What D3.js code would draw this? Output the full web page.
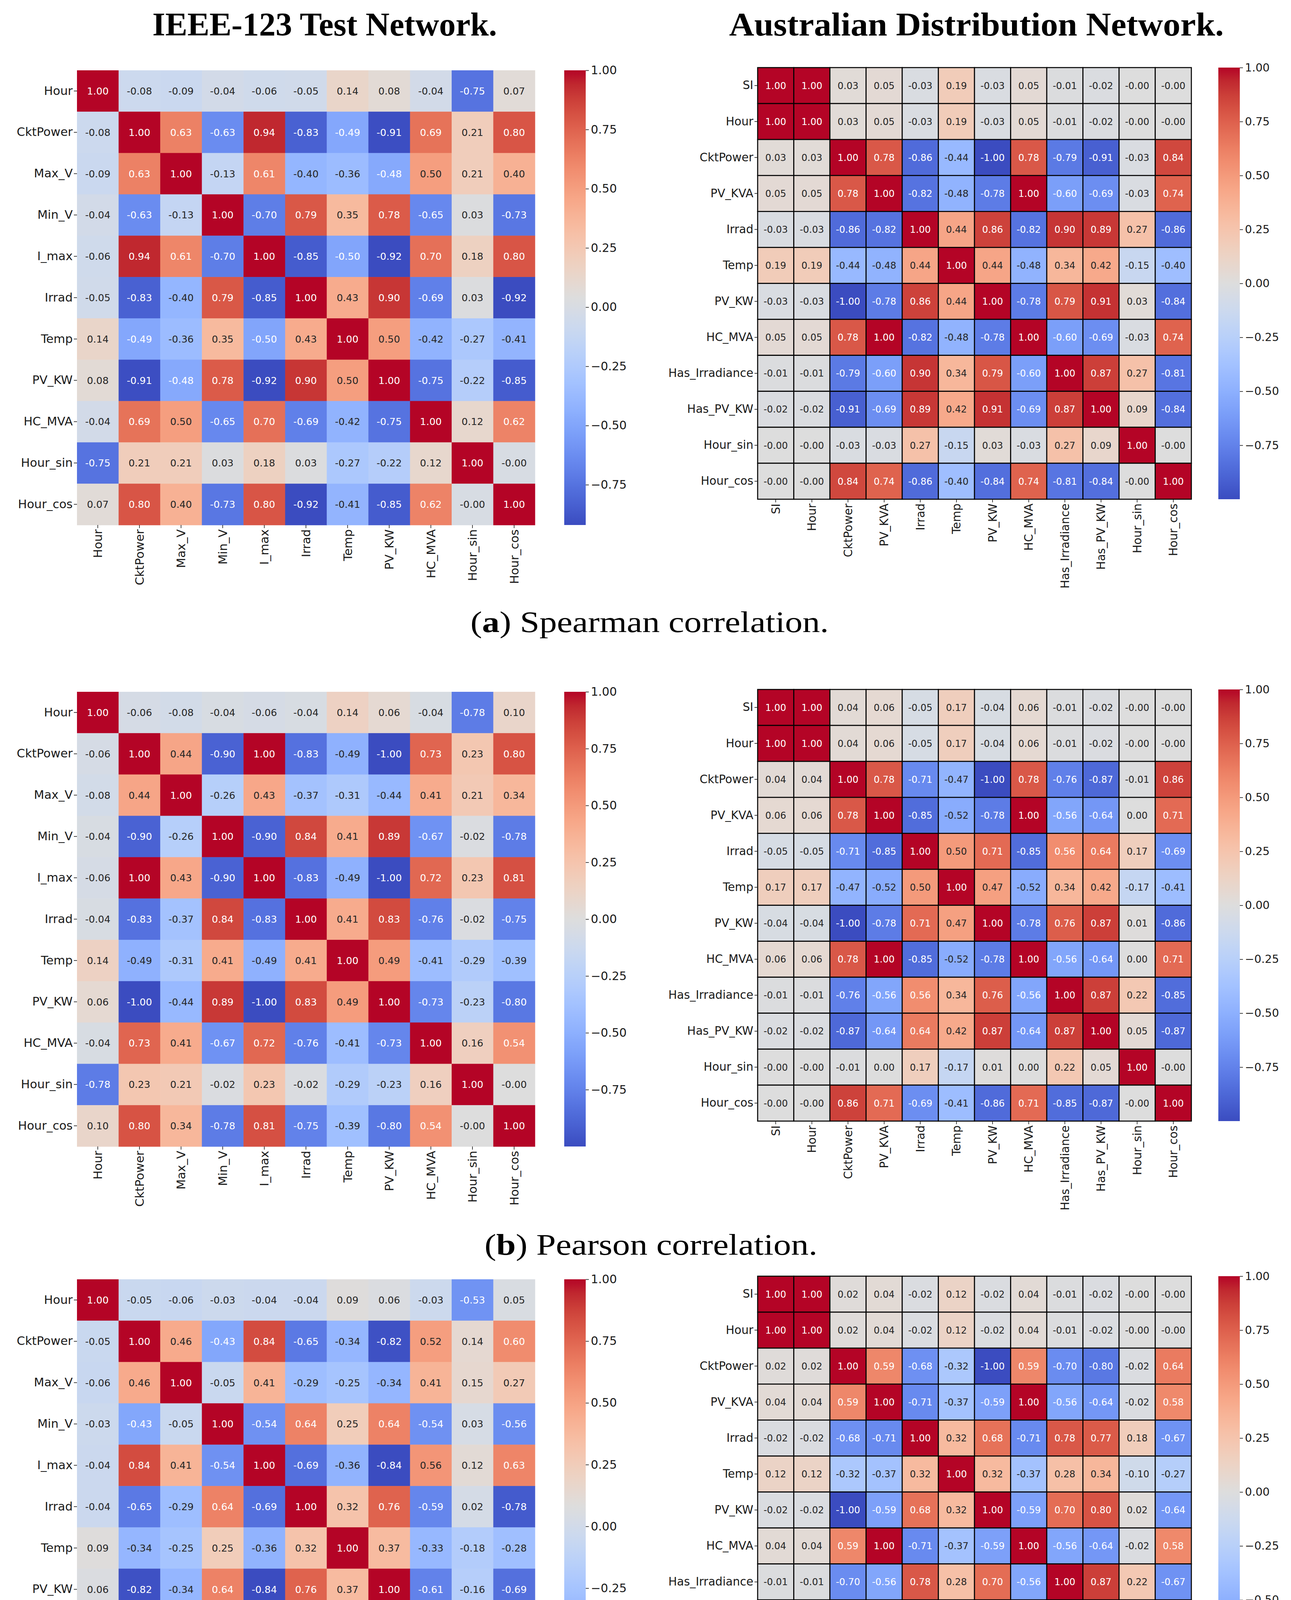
<!DOCTYPE html>
<html><head><meta charset="utf-8">
<script src="https://cdn.jsdelivr.net/npm/d3@7"></script>
<style>body{margin:0;background:#fff}</style>
</head><body>
<svg id="chart" width="3304" height="4757" xmlns="http://www.w3.org/2000/svg"></svg>
<script>
// ---------------- DATA ----------------
const ieeeLabels = ["Hour","CktPower","Max_V","Min_V","I_max","Irrad","Temp","PV_KW","HC_MVA","Hour_sin","Hour_cos"];
const ausLabels = ["SI","Hour","CktPower","PV_KVA","Irrad","Temp","PV_KW","HC_MVA","Has_Irradiance","Has_PV_KW","Hour_sin","Hour_cos"];

const spearmanIEEE = [
 [1.00,-0.08,-0.09,-0.04,-0.06,-0.05,0.14,0.08,-0.04,-0.75,0.07],
 [-0.08,1.00,0.63,-0.63,0.94,-0.83,-0.49,-0.91,0.69,0.21,0.80],
 [-0.09,0.63,1.00,-0.13,0.61,-0.40,-0.36,-0.48,0.50,0.21,0.40],
 [-0.04,-0.63,-0.13,1.00,-0.70,0.79,0.35,0.78,-0.65,0.03,-0.73],
 [-0.06,0.94,0.61,-0.70,1.00,-0.85,-0.50,-0.92,0.70,0.18,0.80],
 [-0.05,-0.83,-0.40,0.79,-0.85,1.00,0.43,0.90,-0.69,0.03,-0.92],
 [0.14,-0.49,-0.36,0.35,-0.50,0.43,1.00,0.50,-0.42,-0.27,-0.41],
 [0.08,-0.91,-0.48,0.78,-0.92,0.90,0.50,1.00,-0.75,-0.22,-0.85],
 [-0.04,0.69,0.50,-0.65,0.70,-0.69,-0.42,-0.75,1.00,0.12,0.62],
 [-0.75,0.21,0.21,0.03,0.18,0.03,-0.27,-0.22,0.12,1.00,-0.00],
 [0.07,0.80,0.40,-0.73,0.80,-0.92,-0.41,-0.85,0.62,-0.00,1.00]
];
const spearmanAUS = [
 [1.00,1.00,0.03,0.05,-0.03,0.19,-0.03,0.05,-0.01,-0.02,-0.00,-0.00],
 [1.00,1.00,0.03,0.05,-0.03,0.19,-0.03,0.05,-0.01,-0.02,-0.00,-0.00],
 [0.03,0.03,1.00,0.78,-0.86,-0.44,-1.00,0.78,-0.79,-0.91,-0.03,0.84],
 [0.05,0.05,0.78,1.00,-0.82,-0.48,-0.78,1.00,-0.60,-0.69,-0.03,0.74],
 [-0.03,-0.03,-0.86,-0.82,1.00,0.44,0.86,-0.82,0.90,0.89,0.27,-0.86],
 [0.19,0.19,-0.44,-0.48,0.44,1.00,0.44,-0.48,0.34,0.42,-0.15,-0.40],
 [-0.03,-0.03,-1.00,-0.78,0.86,0.44,1.00,-0.78,0.79,0.91,0.03,-0.84],
 [0.05,0.05,0.78,1.00,-0.82,-0.48,-0.78,1.00,-0.60,-0.69,-0.03,0.74],
 [-0.01,-0.01,-0.79,-0.60,0.90,0.34,0.79,-0.60,1.00,0.87,0.27,-0.81],
 [-0.02,-0.02,-0.91,-0.69,0.89,0.42,0.91,-0.69,0.87,1.00,0.09,-0.84],
 [-0.00,-0.00,-0.03,-0.03,0.27,-0.15,0.03,-0.03,0.27,0.09,1.00,-0.00],
 [-0.00,-0.00,0.84,0.74,-0.86,-0.40,-0.84,0.74,-0.81,-0.84,-0.00,1.00]
];
const pearsonIEEE = [
 [1.00,-0.06,-0.08,-0.04,-0.06,-0.04,0.14,0.06,-0.04,-0.78,0.10],
 [-0.06,1.00,0.44,-0.90,1.00,-0.83,-0.49,-1.00,0.73,0.23,0.80],
 [-0.08,0.44,1.00,-0.26,0.43,-0.37,-0.31,-0.44,0.41,0.21,0.34],
 [-0.04,-0.90,-0.26,1.00,-0.90,0.84,0.41,0.89,-0.67,-0.02,-0.78],
 [-0.06,1.00,0.43,-0.90,1.00,-0.83,-0.49,-1.00,0.72,0.23,0.81],
 [-0.04,-0.83,-0.37,0.84,-0.83,1.00,0.41,0.83,-0.76,-0.02,-0.75],
 [0.14,-0.49,-0.31,0.41,-0.49,0.41,1.00,0.49,-0.41,-0.29,-0.39],
 [0.06,-1.00,-0.44,0.89,-1.00,0.83,0.49,1.00,-0.73,-0.23,-0.80],
 [-0.04,0.73,0.41,-0.67,0.72,-0.76,-0.41,-0.73,1.00,0.16,0.54],
 [-0.78,0.23,0.21,-0.02,0.23,-0.02,-0.29,-0.23,0.16,1.00,-0.00],
 [0.10,0.80,0.34,-0.78,0.81,-0.75,-0.39,-0.80,0.54,-0.00,1.00]
];
const pearsonAUS = [
 [1.00,1.00,0.04,0.06,-0.05,0.17,-0.04,0.06,-0.01,-0.02,-0.00,-0.00],
 [1.00,1.00,0.04,0.06,-0.05,0.17,-0.04,0.06,-0.01,-0.02,-0.00,-0.00],
 [0.04,0.04,1.00,0.78,-0.71,-0.47,-1.00,0.78,-0.76,-0.87,-0.01,0.86],
 [0.06,0.06,0.78,1.00,-0.85,-0.52,-0.78,1.00,-0.56,-0.64,0.00,0.71],
 [-0.05,-0.05,-0.71,-0.85,1.00,0.50,0.71,-0.85,0.56,0.64,0.17,-0.69],
 [0.17,0.17,-0.47,-0.52,0.50,1.00,0.47,-0.52,0.34,0.42,-0.17,-0.41],
 [-0.04,-0.04,-1.00,-0.78,0.71,0.47,1.00,-0.78,0.76,0.87,0.01,-0.86],
 [0.06,0.06,0.78,1.00,-0.85,-0.52,-0.78,1.00,-0.56,-0.64,0.00,0.71],
 [-0.01,-0.01,-0.76,-0.56,0.56,0.34,0.76,-0.56,1.00,0.87,0.22,-0.85],
 [-0.02,-0.02,-0.87,-0.64,0.64,0.42,0.87,-0.64,0.87,1.00,0.05,-0.87],
 [-0.00,-0.00,-0.01,0.00,0.17,-0.17,0.01,0.00,0.22,0.05,1.00,-0.00],
 [-0.00,-0.00,0.86,0.71,-0.69,-0.41,-0.86,0.71,-0.85,-0.87,-0.00,1.00]
];
const kendallIEEE = [
 [1.00,-0.05,-0.06,-0.03,-0.04,-0.04,0.09,0.06,-0.03,-0.53,0.05],
 [-0.05,1.00,0.46,-0.43,0.84,-0.65,-0.34,-0.82,0.52,0.14,0.60],
 [-0.06,0.46,1.00,-0.05,0.41,-0.29,-0.25,-0.34,0.41,0.15,0.27],
 [-0.03,-0.43,-0.05,1.00,-0.54,0.64,0.25,0.64,-0.54,0.03,-0.56],
 [-0.04,0.84,0.41,-0.54,1.00,-0.69,-0.36,-0.84,0.56,0.12,0.63],
 [-0.04,-0.65,-0.29,0.64,-0.69,1.00,0.32,0.76,-0.59,0.02,-0.78],
 [0.09,-0.34,-0.25,0.25,-0.36,0.32,1.00,0.37,-0.33,-0.18,-0.28],
 [0.06,-0.82,-0.34,0.64,-0.84,0.76,0.37,1.00,-0.61,-0.16,-0.69],
 [-0.03,0.52,0.41,-0.54,0.56,-0.59,-0.33,-0.61,1.00,0.10,0.50],
 [-0.53,0.14,0.15,0.03,0.12,0.02,-0.18,-0.16,0.10,1.00,-0.00],
 [0.05,0.60,0.27,-0.56,0.63,-0.78,-0.28,-0.69,0.50,-0.00,1.00]
];
const kendallAUS = [
 [1.00,1.00,0.02,0.04,-0.02,0.12,-0.02,0.04,-0.01,-0.02,-0.00,-0.00],
 [1.00,1.00,0.02,0.04,-0.02,0.12,-0.02,0.04,-0.01,-0.02,-0.00,-0.00],
 [0.02,0.02,1.00,0.59,-0.68,-0.32,-1.00,0.59,-0.70,-0.80,-0.02,0.64],
 [0.04,0.04,0.59,1.00,-0.71,-0.37,-0.59,1.00,-0.56,-0.64,-0.02,0.58],
 [-0.02,-0.02,-0.68,-0.71,1.00,0.32,0.68,-0.71,0.78,0.77,0.18,-0.67],
 [0.12,0.12,-0.32,-0.37,0.32,1.00,0.32,-0.37,0.28,0.34,-0.10,-0.27],
 [-0.02,-0.02,-1.00,-0.59,0.68,0.32,1.00,-0.59,0.70,0.80,0.02,-0.64],
 [0.04,0.04,0.59,1.00,-0.71,-0.37,-0.59,1.00,-0.56,-0.64,-0.02,0.58],
 [-0.01,-0.01,-0.70,-0.56,0.78,0.28,0.70,-0.56,1.00,0.87,0.22,-0.67],
 [-0.02,-0.02,-0.80,-0.64,0.77,0.34,0.80,-0.64,0.87,1.00,0.08,-0.69],
 [-0.00,-0.00,-0.02,-0.02,0.18,-0.10,0.02,-0.02,0.22,0.08,1.00,-0.00],
 [-0.00,-0.00,0.64,0.58,-0.67,-0.27,-0.64,0.58,-0.67,-0.69,-0.00,1.00]
];
const colorbarTicks = [1.00,0.75,0.50,0.25,0.00,-0.25,-0.50,-0.75];
const columnTitles = ["IEEE-123 Test Network.","Australian Distribution Network."];
const captionLetters = ["a","b","c"];
const captionTexts = [" Spearman correlation."," Pearson correlation."," Kendall correlation."];

// ---------------- STYLE / LAYOUT ----------------
// matplotlib "coolwarm" segment data at i/32
const cwR=[0.2298057,0.26623388,0.30386891,0.342804478,0.38301334,0.424369608,0.46666708,0.509635204,0.552953156,0.596262162,0.639176211,0.681291281,0.722193294,0.761464949,0.798691636,0.833466556,0.865395197,0.897787179,0.924127593,0.944468518,0.958852946,0.96732803,0.969954137,0.966811177,0.958003065,0.943660866,0.923944917,0.89904617,0.869186849,0.834620542,0.795631745,0.752534934,0.705673158];
const cwG=[0.298717966,0.353094838,0.406535296,0.458757618,0.50941904,0.558148092,0.604562568,0.648280772,0.688929332,0.726149107,0.759599947,0.788964712,0.813952739,0.834302879,0.849786142,0.860207984,0.86541021,0.848937047,0.827384882,0.800927443,0.769767752,0.734132809,0.694266682,0.650421156,0.602842431,0.551750968,0.49730856,0.439559467,0.378313092,0.312874446,0.24128379,0.157246067,0.01555616];
const cwB=[0.753683153,0.801466763,0.84495867,0.883725899,0.917387822,0.945619588,0.968154911,0.98478814,0.995375608,0.999836203,0.998151185,0.990363227,0.976574709,0.956945269,0.931688648,0.901068838,0.865395561,0.820880546,0.774508472,0.726736146,0.678007945,0.628751763,0.579375448,0.530263762,0.481775914,0.434243684,0.387970225,0.343229596,0.300267182,0.259301199,0.220525627,0.184115123,0.150232812];
function coolwarm(t){
  t=Math.max(0,Math.min(1,t));
  const p=t*32, i=Math.min(31,Math.floor(p)), f=p-i;
  const c=k=>Math.round(255*(k[i]+(k[i+1]-k[i])*f));
  return `rgb(${c(cwR)},${c(cwG)},${c(cwB)})`;
}
function lum(col){
  const c=d3.rgb(col);
  const lin=v=>{v/=255;return v<=0.03928?v/12.92:Math.pow((v+0.055)/1.055,2.4);};
  return 0.2126*lin(c.r)+0.7152*lin(c.g)+0.0722*lin(c.b);
}
function fmt(v){ const neg = v<0 || Object.is(v,-0); return (neg?"-":"")+Math.abs(v).toFixed(2); }
function cbFmt(v){ return (v<0?"\u2212":"")+Math.abs(v).toFixed(2); }

const L = {x:197,w:1172,h:1164,cbx:1444,lab:30.5,ann:25,cb:30,grid:false};
const R = {x:1939,w:1110,h:1105,cbx:3118,lab:29.3,ann:24,cb:28.5,grid:true};
const panels = [
  Object.assign({m:spearmanIEEE,labels:ieeeLabels,y:180},L),
  Object.assign({m:spearmanAUS,labels:ausLabels,y:173},R),
  Object.assign({m:pearsonIEEE,labels:ieeeLabels,y:1771},L),
  Object.assign({m:pearsonAUS,labels:ausLabels,y:1765},R),
  Object.assign({m:kendallIEEE,labels:ieeeLabels,y:3275},L),
  Object.assign({m:kendallAUS,labels:ausLabels,y:3267},R)
];
const SANS="DejaVu Sans", SERIF="Liberation Serif", TXT="#1a1a1a";

const svg=d3.select("#chart");
const defs=svg.append("defs");

panels.forEach((p,pi)=>{
  const vals=p.m.flat();
  const vmin=d3.min(vals), vmax=d3.max(vals);
  const color=d3.scaleSequential(coolwarm).domain([vmin,vmax]);
  const xs=d3.scaleBand().domain(p.labels).range([p.x,p.x+p.w]);
  const ys=d3.scaleBand().domain(p.labels).range([p.y,p.y+p.h]);
  const cells=[];
  p.m.forEach((row,ri)=>row.forEach((v,ci)=>cells.push({r:p.labels[ri],c:p.labels[ci],v})));
  const g=svg.append("g");
  g.selectAll("rect.cell").data(cells).join("rect")
    .attr("x",d=>xs(d.c)).attr("y",d=>ys(d.r))
    .attr("width",xs.bandwidth()+(p.grid?0:0.6)).attr("height",ys.bandwidth()+(p.grid?0:0.6))
    .attr("fill",d=>color(d.v))
    .attr("stroke",p.grid?"#000":"none").attr("stroke-width",p.grid?2.6:0);
  g.selectAll("text.ann").data(cells).join("text")
    .attr("x",d=>xs(d.c)+xs.bandwidth()/2).attr("y",d=>ys(d.r)+ys.bandwidth()/2)
    .attr("dy","0.36em").attr("text-anchor","middle")
    .attr("font-family",SANS).attr("font-size",p.ann)
    .attr("fill",d=>lum(color(d.v))>0.408?"#262626":"#ffffff")
    .text(d=>fmt(d.v));
  // axes
  const ya=g.append("g").attr("transform",`translate(${p.x},0)`)
    .call(d3.axisLeft(ys).tickSize(8).tickPadding(3));
  const xa=g.append("g").attr("transform",`translate(0,${p.y+p.h})`)
    .call(d3.axisBottom(xs).tickSize(8).tickPadding(3));
  [ya,xa].forEach(a=>{
    a.select(".domain").remove();
    a.selectAll(".tick line").attr("stroke",TXT).attr("stroke-width",1.6);
    a.selectAll(".tick text").attr("font-family",SANS).attr("font-size",p.lab).attr("fill",TXT);
  });
  xa.selectAll(".tick text").attr("transform","rotate(-90)").attr("text-anchor","end")
    .attr("x",-11).attr("y",0).attr("dy","0.36em");
  // colorbar
  const gid="cb"+pi;
  const grad=defs.append("linearGradient").attr("id",gid).attr("x1",0).attr("y1",1).attr("x2",0).attr("y2",0);
  d3.range(0,65).forEach(k=>{
    const t=k/64;
    grad.append("stop").attr("offset",t).attr("stop-color",coolwarm(t));
  });
  const cs=d3.scaleLinear().domain([vmin,vmax]).range([p.y+p.h,p.y]);
  g.append("rect").attr("x",p.cbx).attr("y",p.y).attr("width",55).attr("height",p.h)
    .attr("fill",`url(#${gid})`);
  const ca=g.append("g").attr("transform",`translate(${p.cbx+55},0)`)
    .call(d3.axisRight(cs).tickValues(colorbarTicks).tickSize(8).tickPadding(5).tickFormat(cbFmt));
  ca.select(".domain").remove();
  ca.selectAll(".tick line").attr("stroke",TXT).attr("stroke-width",1.6);
  ca.selectAll(".tick text").attr("font-family",SANS).attr("font-size",p.cb).attr("fill",TXT);
});

// column titles
const titlePos=[{cx:831,w:882},{cx:2499,w:1266}];
columnTitles.forEach((t,i)=>{
  svg.append("text").attr("x",titlePos[i].cx).attr("y",91).attr("text-anchor","middle")
    .attr("font-family",SERIF).attr("font-weight","bold").attr("font-size",84).attr("fill","#000")
    .attr("textLength",titlePos[i].w).attr("lengthAdjust","spacingAndGlyphs").text(t);
});
// captions
const capPos=[{x:1204,y:1618,w:917},{x:1240,y:3212,w:852},{x:1247,y:4715,w:832}];
captionLetters.forEach((c,i)=>{
  const t=svg.append("text").attr("x",capPos[i].x).attr("y",capPos[i].y)
    .attr("font-family",SERIF).attr("font-size",76).attr("fill","#000")
    .attr("textLength",capPos[i].w).attr("lengthAdjust","spacingAndGlyphs");
  t.append("tspan").text("(");
  t.append("tspan").attr("font-weight","bold").text(c);
  t.append("tspan").text(")"+captionTexts[i]);
});
</script>
</body></html>
